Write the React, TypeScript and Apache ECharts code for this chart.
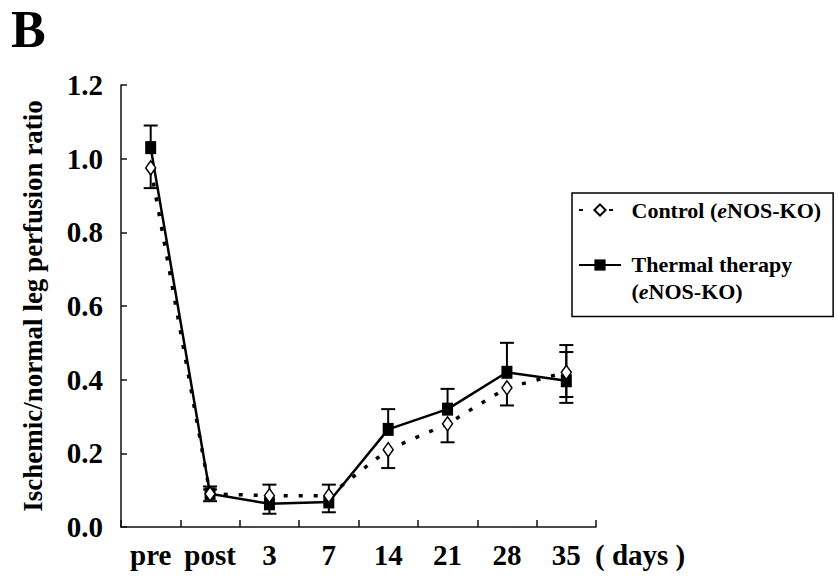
import React, { useEffect, useRef } from "react";
import * as echarts from "echarts";

const categories = ["pre", "post", "3", "7", "14", "21", "28", "35"];
const controlName = "Control (eNOS-KO)";
const thermalName = "Thermal therapy (eNOS-KO)";
const controlMean = [0.975, 0.09, 0.085, 0.085, 0.21, 0.28, 0.378, 0.42];
const controlErrUp = [0, 0.012, 0.03, 0.03, 0, 0, 0, 0.074];
const controlErrDown = [0.055, 0, 0, 0, 0.05, 0.05, 0.048, 0.067];
const thermalMean = [1.03, 0.09, 0.063, 0.068, 0.265, 0.32, 0.42, 0.397];
const thermalErrUp = [0.06, 0.02, 0, 0, 0.055, 0.055, 0.08, 0.078];
const thermalErrDown = [0, 0.02, 0.027, 0.028, 0, 0, 0, 0.06];
const yMin = 0;
const yMax = 1.2;
const yStep = 0.2;

const FONT = "'Liberation Serif', 'Times New Roman', serif";

function errData(mean: number[], up: number[], down: number[]) {
  return mean.map((m, i) => [i, m, up[i], down[i]]);
}

function renderErr(params: any, api: any) {
  const x = api.value(0);
  const v = api.value(1);
  const up = api.value(2);
  const dn = api.value(3);
  const c = api.coord([x, v]);
  const half = 7;
  const style = { stroke: "#000", lineWidth: 2 };
  const children: any[] = [];
  if (up > 0) {
    const t = api.coord([x, v + up]);
    children.push({ type: "line", shape: { x1: c[0], y1: c[1], x2: t[0], y2: t[1] }, style });
    children.push({ type: "line", shape: { x1: t[0] - half, y1: t[1], x2: t[0] + half, y2: t[1] }, style });
  }
  if (dn > 0) {
    const b = api.coord([x, v - dn]);
    children.push({ type: "line", shape: { x1: c[0], y1: c[1], x2: b[0], y2: b[1] }, style });
    children.push({ type: "line", shape: { x1: b[0] - half, y1: b[1], x2: b[0] + half, y2: b[1] }, style });
  }
  return { type: "group", children };
}

export default function App() {
  const ref = useRef<HTMLDivElement>(null);
  useEffect(() => {
    if (!ref.current) return;
    const chart = echarts.init(ref.current, null, { renderer: "svg" });
    const rich = {
      n: { fontFamily: FONT, fontWeight: "bold", fontSize: 22, lineHeight: 27, color: "#000" },
      i: { fontFamily: FONT, fontWeight: "bold", fontStyle: "italic", fontSize: 22, lineHeight: 27, color: "#000" },
      s: { fontFamily: FONT, fontSize: 22, lineHeight: 26, color: "#000" },
    };
    chart.setOption({
      animation: false,
      backgroundColor: "#fff",
      title: {
        text: "B",
        left: 11,
        top: 3,
        padding: 0,
        textStyle: { fontFamily: FONT, fontWeight: "bold", fontSize: 52, color: "#000" },
      },
      grid: { left: 121, right: 242, top: 85, bottom: 51 },
      legend: {
        orient: "vertical",
        left: 572,
        top: 193,
        padding: [6, 12, 14, 6],
        itemGap: 6,
        itemWidth: 42,
        itemHeight: 14,
        borderColor: "#000",
        borderWidth: 1.5,
        selectedMode: false,
        textStyle: { fontFamily: FONT, fontWeight: "bold", fontSize: 22, color: "#000", rich },
        data: [{ name: controlName }, { name: thermalName }],
        formatter: (name: string) =>
          name === controlName
            ? " {n|Control (}{i|e}{n|NOS-KO)}"
            : "{s| }\n {n|Thermal therapy}\n {n|(}{i|e}{n|NOS-KO)}",
      },
      xAxis: {
        type: "category",
        data: categories,
        boundaryGap: true,
        name: "( days )",
        nameLocation: "end",
        nameGap: -1,
        nameTextStyle: {
          fontFamily: FONT,
          fontWeight: "bold",
          fontSize: 29,
          color: "#000",
          verticalAlign: "top",
          align: "left",
          padding: [13, 0, 0, 0],
        },
        axisLine: { lineStyle: { color: "#111", width: 1.5 } },
        axisTick: { show: true, inside: true, length: 7, interval: 0, lineStyle: { color: "#111", width: 1.5 } },
        axisLabel: {
          interval: 0,
          margin: 13,
          fontFamily: FONT,
          fontWeight: "bold",
          fontSize: 29,
          color: "#000",
        },
        splitLine: { show: false },
      },
      yAxis: {
        type: "value",
        min: yMin,
        max: yMax,
        interval: yStep,
        name: "Ischemic/normal leg perfusion ratio",
        nameLocation: "middle",
        nameRotate: 90,
        nameGap: 75,
        nameTextStyle: { fontFamily: FONT, fontWeight: "bold", fontSize: 27, color: "#000" },
        axisLine: { show: true, lineStyle: { color: "#111", width: 1.5 } },
        axisTick: { show: true, inside: true, length: 6, lineStyle: { color: "#111", width: 1.5 } },
        axisLabel: {
          margin: 18,
          fontFamily: FONT,
          fontWeight: "bold",
          fontSize: 29,
          color: "#000",
          formatter: (v: number) => v.toFixed(1),
        },
        splitLine: { show: false },
      },
      series: [
        {
          name: "errThermal",
          type: "custom",
          renderItem: renderErr,
          data: errData(thermalMean, thermalErrUp, thermalErrDown),
          encode: { x: 0, y: 1 },
          z: 1,
          silent: true,
        },
        {
          name: "errControl",
          type: "custom",
          renderItem: renderErr,
          data: errData(controlMean, controlErrUp, controlErrDown),
          encode: { x: 0, y: 1 },
          z: 1,
          silent: true,
        },
        {
          name: thermalName,
          type: "line",
          data: thermalMean,
          symbol: "rect",
          symbolSize: [11, 13],
          showSymbol: true,
          itemStyle: { color: "#000" },
          lineStyle: { color: "#000", width: 2.5 },
          z: 2,
        },
        {
          name: controlName,
          type: "line",
          data: controlMean,
          symbol: "diamond",
          symbolSize: [10, 14],
          showSymbol: true,
          itemStyle: { color: "#fff", borderColor: "#000", borderWidth: 1.5 },
          lineStyle: { color: "#000", width: 3.5, type: [4, 11], cap: "butt" },
          z: 3,
        },
      ],
    });
    return () => chart.dispose();
  }, []);
  return (
    <div
      ref={ref}
      style={{ position: "fixed", left: 0, top: 0, width: 838, height: 578, background: "#fff" }}
    />
  );
}
